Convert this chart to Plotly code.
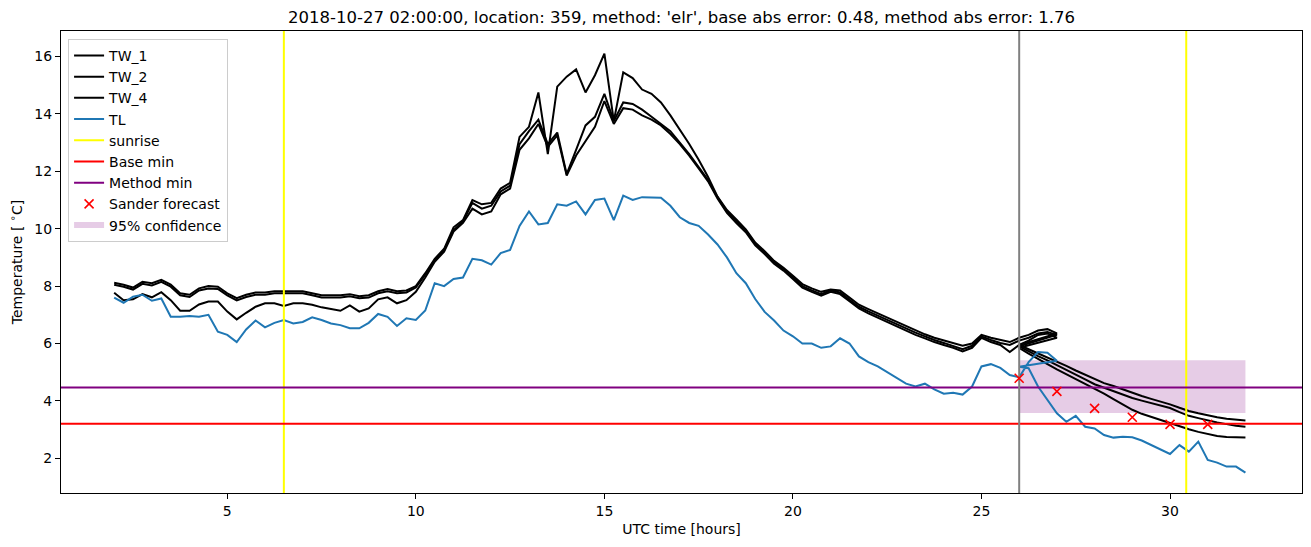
import plotly.graph_objects as go

# ---------------- data ----------------
obs_start = 2.0          # hours
step = 0.25              # hours
fut_start = 26.0

tw1_obs = [8.12, 8.05, 7.95, 8.15, 8.1, 8.22, 8.05, 7.75, 7.7, 7.92, 8.0, 7.98, 7.75, 7.58, 7.7, 7.78, 7.78,
           7.82, 7.82, 7.82, 7.82, 7.75, 7.68, 7.68, 7.68, 7.72, 7.65, 7.68, 7.82, 7.9, 7.82, 7.85, 8.0,
           8.45, 8.95, 9.3, 10.05, 10.3, 11.0, 10.85, 10.9, 11.4, 11.6, 13.2, 13.55, 14.75, 12.6, 14.95, 15.3,
           15.55, 14.75, 15.35, 16.1, 13.75, 15.45, 15.25, 14.85, 14.7, 14.4, 13.95, 13.45, 12.95, 12.4, 11.8,
           11.12, 10.65, 10.32, 9.98, 9.52, 9.22, 8.88, 8.64, 8.36, 8.07, 7.92, 7.8, 7.88, 7.85, 7.6, 7.35,
           7.2, 7.05, 6.9, 6.75, 6.6, 6.45, 6.32, 6.2, 6.1, 6.0, 5.92, 6.0, 6.3, 6.2, 6.12, 6.05, 6.2, 6.3,
           6.45, 6.5, 6.35]
tw2_obs = [8.05, 7.98, 7.88, 8.08, 8.02, 8.15, 7.98, 7.68, 7.62, 7.85, 7.92, 7.9, 7.68, 7.5, 7.62, 7.7, 7.7,
           7.75, 7.75, 7.75, 7.75, 7.68, 7.6, 7.6, 7.6, 7.65, 7.58, 7.6, 7.75, 7.82, 7.75, 7.78, 7.95,
           8.4, 8.9, 9.25, 9.95, 10.25, 10.9, 10.7, 10.8, 11.3, 11.5, 12.95, 13.4, 13.8, 12.95, 13.35, 11.9,
           12.75, 13.6, 13.9, 14.7, 13.75, 14.4, 14.35, 14.15, 13.9, 13.65, 13.4, 13.0, 12.6, 12.15, 11.7,
           11.1, 10.6, 10.27, 9.93, 9.47, 9.17, 8.83, 8.59, 8.3, 8.0, 7.85, 7.72, 7.85, 7.78, 7.52, 7.28,
           7.12, 6.97, 6.83, 6.68, 6.52, 6.38, 6.25, 6.12, 6.02, 5.92, 5.8, 5.92, 6.25, 6.12, 6.02, 5.95,
           6.1, 6.2, 6.35, 6.4, 6.3]
tw4_obs = [7.77, 7.51, 7.54, 7.72, 7.61, 7.79, 7.51, 7.14, 7.14, 7.36, 7.46, 7.46, 7.11, 6.84, 7.07, 7.28,
           7.4, 7.4, 7.31, 7.4, 7.4, 7.35, 7.26, 7.19, 7.14, 7.33, 7.11, 7.22, 7.54, 7.61, 7.4, 7.51, 7.8,
           8.3, 8.85, 9.2, 9.9, 10.2, 10.7, 10.5, 10.6, 11.2, 11.4, 12.75, 13.15, 13.65, 12.85, 13.25, 11.85,
           12.55, 13.05, 13.55, 14.45, 13.65, 14.2, 14.15, 13.95, 13.8, 13.6, 13.3, 12.95, 12.55, 12.1, 11.65,
           11.05, 10.55, 10.2, 9.88, 9.42, 9.12, 8.78, 8.54, 8.25, 7.95, 7.8, 7.67, 7.8, 7.72, 7.47, 7.22,
           7.05, 6.9, 6.75, 6.6, 6.45, 6.3, 6.18, 6.05, 5.95, 5.85, 5.72, 5.85, 6.2, 6.05, 5.95, 5.7, 5.95,
           6.1, 6.3, 6.35, 6.2]
tl_obs = [7.6, 7.42, 7.63, 7.7, 7.49, 7.57, 6.93, 6.93, 6.96, 6.93, 7.0, 6.41, 6.3, 6.05, 6.49, 6.8, 6.56,
          6.72, 6.82, 6.7, 6.75, 6.91, 6.82, 6.7, 6.64, 6.53, 6.53, 6.72, 7.03, 6.93, 6.61, 6.88, 6.82,
          7.15, 8.1, 8.0, 8.25, 8.3, 8.95, 8.9, 8.75, 9.15, 9.26, 10.1, 10.6, 10.15, 10.2, 10.85, 10.8,
          10.95, 10.5, 11.0, 11.05, 10.3, 11.15, 11.0, 11.1, 11.1, 11.08, 10.8, 10.4, 10.2, 10.1, 9.8,
          9.45, 9.0, 8.45, 8.1, 7.55, 7.1, 6.8, 6.45, 6.25, 6.0, 6.0, 5.85, 5.9, 6.18, 6.0, 5.55, 5.35,
          5.2, 5.0, 4.82, 4.6, 4.5, 4.6, 4.4, 4.25, 4.28, 4.22, 4.5, 5.2, 5.28, 5.15, 4.9, 4.82, 5.35,
          5.7, 5.68, 5.4]

tw1_fut = [5.95, 5.8, 5.66, 5.52, 5.38, 5.22, 5.06, 4.91, 4.76, 4.62, 4.52, 4.4, 4.27, 4.17, 4.07, 3.98,
           3.88, 3.76, 3.65, 3.57, 3.49, 3.43, 3.38, 3.35, 3.32]
tw2_fut = [5.9, 5.72, 5.56, 5.41, 5.25, 5.08, 4.91, 4.75, 4.58, 4.46, 4.35, 4.23, 4.1, 4.01, 3.93, 3.85,
           3.75, 3.61, 3.48, 3.4, 3.32, 3.25, 3.19, 3.13, 3.1]
tw4_fut = [5.85, 5.65, 5.45, 5.28, 5.1, 4.93, 4.76, 4.6, 4.42, 4.25, 4.06, 3.87, 3.69, 3.55, 3.44, 3.34,
           3.24, 3.12, 3.01, 2.92, 2.84, 2.78, 2.74, 2.72, 2.72]
tl_fut = [5.19, 5.14, 4.5, 4.03, 3.57, 3.27, 3.48, 3.1, 3.04, 2.81, 2.72, 2.75, 2.73, 2.62, 2.46, 2.29,
          2.15, 2.46, 2.23, 2.58, 1.94, 1.85, 1.71, 1.71, 1.5]

sunrise_hours = [6.5, 30.43]
forecast_time = 26.0
base_min = 3.2
method_min = 4.47
sander_hours = [26, 27, 28, 29, 30, 31]
sander_values = [4.79, 4.33, 3.74, 3.43, 3.18, 3.18]
conf_start, conf_end = 26.0, 32.0
conf_low, conf_high = 3.58, 5.42

x_range = [0.59, 33.5]
y_range = [0.79, 16.89]
x_ticks = [5, 10, 15, 20, 25, 30]
y_ticks = [2, 4, 6, 8, 10, 12, 14, 16]

title = "2018-10-27 02:00:00, location: 359, method: 'elr', base abs error: 0.48, method abs error: 1.76"

# ---------------- figure ----------------
obs_t = [obs_start + i * step for i in range(len(tl_obs))]
fut_t = [fut_start + i * step for i in range(len(tl_fut))]

fig = go.Figure()

# confidence band (drawn first, below everything)
fig.add_trace(go.Scatter(
    x=[conf_start, conf_end, conf_end, conf_start, conf_start],
    y=[conf_low, conf_low, conf_high, conf_high, conf_low],
    fill='toself', fillcolor='rgba(128,0,128,0.2)', mode='none',
    name='95% confidence', legendrank=9, hoverinfo='skip'))

for k, (name, obs, fut) in enumerate([('TW_1', tw1_obs, tw1_fut),
                                      ('TW_2', tw2_obs, tw2_fut),
                                      ('TW_4', tw4_obs, tw4_fut)]):
    fig.add_trace(go.Scatter(x=obs_t + fut_t, y=obs + fut, mode='lines',
                             line=dict(color='black', width=2), name=name, legendrank=k + 1))

fig.add_trace(go.Scatter(x=obs_t + fut_t, y=tl_obs + tl_fut, mode='lines',
                         line=dict(color='#1f77b4', width=2), name='TL', legendrank=4))

sx, sy = [], []
for s in sunrise_hours:
    sx += [s, s, None]
    sy += [y_range[0], y_range[1], None]
fig.add_trace(go.Scatter(x=sx, y=sy, mode='lines', line=dict(color='#ffff00', width=2),
                         name='sunrise', legendrank=5))
fig.add_trace(go.Scatter(x=x_range, y=[base_min, base_min], mode='lines',
                         line=dict(color='#ff0000', width=2), name='Base min', legendrank=6))
fig.add_trace(go.Scatter(x=x_range, y=[method_min, method_min], mode='lines',
                         line=dict(color='#800080', width=2), name='Method min', legendrank=7))
fig.add_trace(go.Scatter(x=[forecast_time, forecast_time], y=y_range, mode='lines',
                         line=dict(color='#808080', width=2), showlegend=False))
fig.add_trace(go.Scatter(x=sander_hours, y=sander_values, mode='markers',
                         marker=dict(symbol='x-thin', size=9, line=dict(color='#ff0000', width=1.6)),
                         name='Sander forecast', legendrank=8))

axis_common = dict(showline=True, linecolor='black', linewidth=1, mirror=True, ticks='outside',
                   ticklen=5, tickwidth=1, tickcolor='black', showgrid=False, zeroline=False,
                   tickfont=dict(size=14, color='black'))

fig.update_layout(
    width=1311, height=547,
    margin=dict(l=61, r=9, t=31, b=54),
    plot_bgcolor='white', paper_bgcolor='white',
    font=dict(family='DejaVu Sans', size=14, color='black'),
    title=dict(text=title, x=0.5, xref='paper', xanchor='center', y=1 - 17 / 547, yref='container',
               yanchor='middle', font=dict(size=16.5, color='black')),
    legend=dict(x=0.0057, y=0.983, xanchor='left', yanchor='top', bgcolor='rgba(255,255,255,0.8)',
                bordercolor='#cccccc', borderwidth=1, font=dict(size=14), traceorder='normal'),
    xaxis=dict(range=x_range, tickvals=x_ticks, title=dict(text='UTC time [hours]', standoff=6,
               font=dict(size=14)), **axis_common),
    yaxis=dict(range=y_range, tickvals=y_ticks, title=dict(text='Temperature [ <sup>∘</sup>C]', standoff=8,
               font=dict(size=14)), **axis_common),
    showlegend=True,
)

fig.write_html("out.html")
